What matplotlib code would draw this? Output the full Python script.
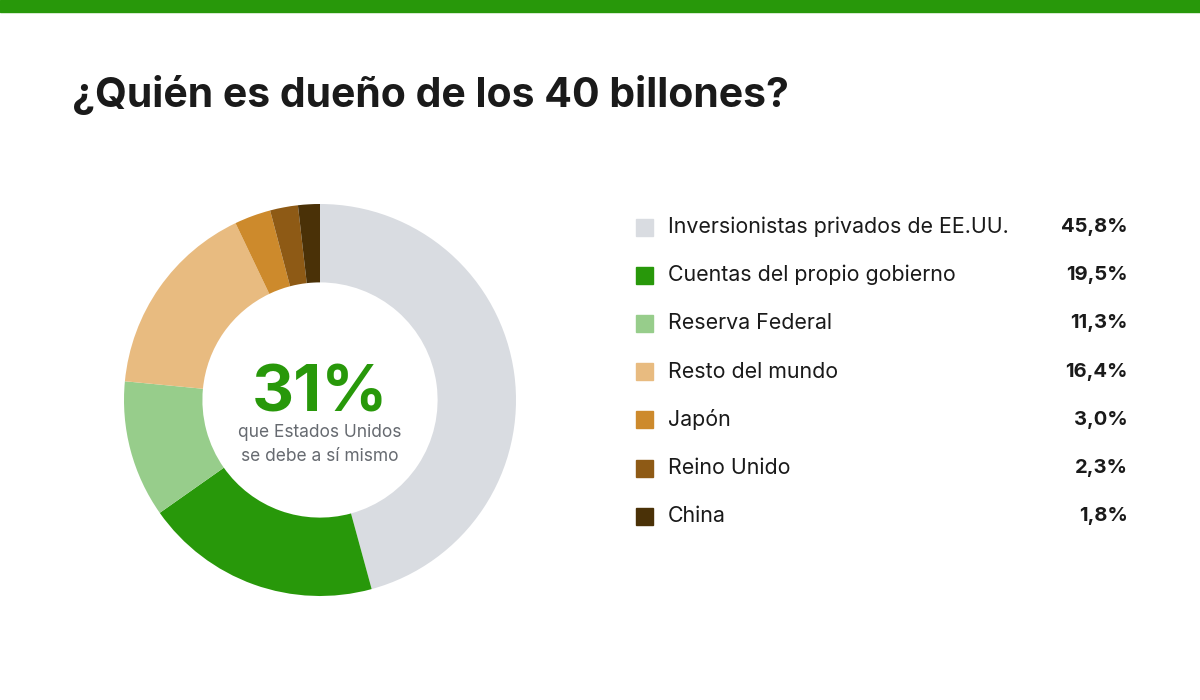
import matplotlib.pyplot as plt
from matplotlib.patches import Rectangle

plt.rcParams['font.family'] = ['Inter', 'DejaVu Sans']

# datos del grafico
etiquetas = ['Inversionistas privados de EE.UU.', 'Cuentas del propio gobierno',
             'Reserva Federal', 'Resto del mundo', 'Japón', 'Reino Unido', 'China']
valores = [45.8, 19.5, 11.3, 16.4, 3.0, 2.3, 1.8]
colores = ['#d9dce1', '#28980a', '#97cd8b', '#e8bb80', '#cd8a2c', '#8e5a15', '#4a3107']

titulo = '¿Quién es dueño de los 40 billones?'
centro = '31%'
subtitulo = 'que Estados Unidos\nse debe a sí mismo'

W, H = 1200, 700
fig = plt.figure(figsize=(12, 7), dpi=100)
fig.patch.set_facecolor('white')

# barra verde superior
fig.patches.append(Rectangle((0, 1 - 12 / H), 1, 12 / H, transform=fig.transFigure,
                             color='#28980a', zorder=0))

fig.text(72 / W, 1 - 95 / H, titulo, fontsize=29.5, fontweight='bold',
         color='#1a1a1a', va='center', ha='left')

# dona
cx, cy, r = 320, 400, 196
ax = fig.add_axes([(cx - r) / W, (H - cy - r) / H, 2 * r / W, 2 * r / H])
ax.pie(valores, colors=colores, startangle=90, counterclock=False, radius=1,
       wedgeprops=dict(width=0.4, edgecolor='none'))
ax.set_xlim(-1, 1)
ax.set_ylim(-1, 1)
ax.set_aspect('equal')
ax.axis('off')

ax.text(0, 0.03, centro, ha='center', va='center', fontsize=47,
        fontweight='bold', color='#28980a')
ax.text(0, -0.225, subtitulo, ha='center', va='center', fontsize=12.5,
        color='#666a70', linespacing=1.55)

# leyenda
y0, paso = 227, 48.2
for i, (et, v, c) in enumerate(zip(etiquetas, valores, colores)):
    y = y0 + i * paso
    fig.patches.append(Rectangle((636 / W, 1 - (y + 8.5) / H), 17 / W, 17 / H,
                                 transform=fig.transFigure, color=c))
    fig.text(668 / W, 1 - y / H, et, fontsize=15.4, color='#1a1a1a',
             va='center', ha='left')
    fig.text(1128 / W, 1 - y / H, f'{v:.1f}%'.replace('.', ','), fontsize=14.5,
             fontweight='bold', color='#1a1a1a', va='center', ha='right')

fig.savefig('out.png', dpi=100)
